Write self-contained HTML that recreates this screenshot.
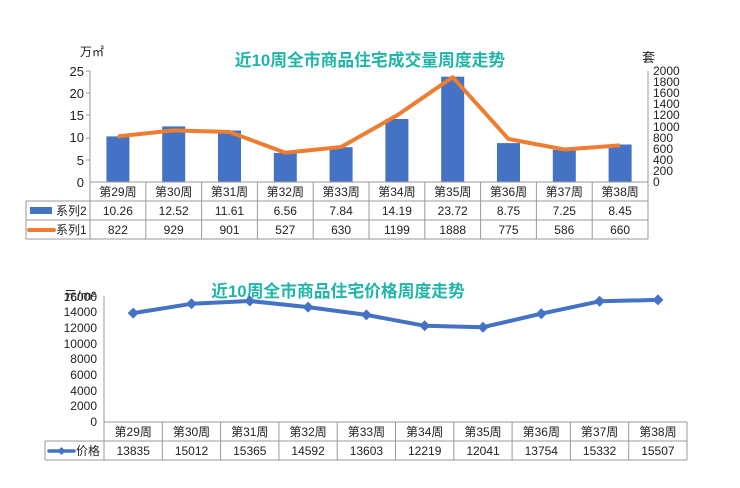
<!DOCTYPE html>
<html><head><meta charset="utf-8"><style>
body{margin:0;background:#fff}
svg{display:block;font-family:"Liberation Sans","Noto Sans CJK SC",sans-serif}
</style></head><body>
<svg width="740" height="488" viewBox="0 0 740 488">
<rect width="740" height="488" fill="#fff"/>
<!-- TOP CHART -->
<text x="370" y="66" text-anchor="middle" font-size="16.8" font-weight="bold" fill="#1fb5a8" font-family="Liberation Sans,Noto Sans CJK SC,sans-serif">近10周全市商品住宅成交量周度走势</text>
<text x="80" y="56" font-size="12" fill="#222">万㎡</text>
<text x="642" y="62" font-size="13" fill="#222">套</text>
<g font-size="13" fill="#222" text-anchor="end">
<text x="84" y="76">25</text><text x="84" y="98">20</text><text x="84" y="120">15</text><text x="84" y="142">10</text><text x="84" y="165">5</text><text x="84" y="187">0</text>
</g>
<g font-size="12" fill="#222">
<text x="653" y="75">2000</text><text x="653" y="86">1800</text><text x="653" y="97">1600</text><text x="653" y="108">1400</text><text x="653" y="119">1200</text><text x="653" y="131">1000</text><text x="653" y="142">800</text><text x="653" y="153">600</text><text x="653" y="164">400</text><text x="653" y="175">200</text><text x="653" y="186">0</text>
</g>
<g stroke="#999" stroke-width="1">
<line x1="90" y1="71" x2="90" y2="182"/><line x1="648" y1="71" x2="648" y2="182"/>
<line x1="86" y1="71" x2="90" y2="71"/><line x1="86" y1="93" x2="90" y2="93"/><line x1="86" y1="115" x2="90" y2="115"/><line x1="86" y1="138" x2="90" y2="138"/><line x1="86" y1="160" x2="90" y2="160"/>
</g>
<g fill="#4472c4">
<rect x="106.4" y="136.4" width="23" height="45.6"/><rect x="162.2" y="126.4" width="23" height="55.6"/><rect x="218" y="130.5" width="23" height="51.5"/><rect x="273.8" y="152.9" width="23" height="29.1"/><rect x="329.6" y="147.2" width="23" height="34.8"/><rect x="385.4" y="119" width="23" height="63"/><rect x="441.2" y="76.7" width="23" height="105.3"/><rect x="497" y="143.1" width="23" height="38.9"/><rect x="552.8" y="149.8" width="23" height="32.2"/><rect x="608.6" y="144.5" width="23" height="37.5"/>
</g>
<polyline fill="none" stroke="#ed7d31" stroke-width="4" stroke-linejoin="round" points="117.9,136.4 173.7,130.4 229.5,132 285.3,152.8 341.1,147 396.9,115.5 452.7,77.2 508.5,139 564.3,149.5 620.1,145.4"/>
<!-- table top -->
<g stroke="#999" stroke-width="1" fill="none">
<line x1="90" y1="182" x2="648" y2="182"/>
<line x1="26" y1="201" x2="648" y2="201"/>
<line x1="26" y1="220" x2="648" y2="220"/>
<line x1="26" y1="239" x2="648" y2="239"/>
<line x1="26" y1="201" x2="26" y2="239"/>
<line x1="90" y1="182" x2="90" y2="239"/><line x1="145.8" y1="182" x2="145.8" y2="239"/><line x1="201.6" y1="182" x2="201.6" y2="239"/><line x1="257.4" y1="182" x2="257.4" y2="239"/><line x1="313.2" y1="182" x2="313.2" y2="239"/><line x1="369" y1="182" x2="369" y2="239"/><line x1="424.8" y1="182" x2="424.8" y2="239"/><line x1="480.6" y1="182" x2="480.6" y2="239"/><line x1="536.4" y1="182" x2="536.4" y2="239"/><line x1="592.2" y1="182" x2="592.2" y2="239"/><line x1="648" y1="182" x2="648" y2="239"/>
</g>
<rect x="30" y="207" width="22" height="7" fill="#4472c4"/>
<line x1="29" y1="230" x2="54" y2="230" stroke="#ed7d31" stroke-width="4" stroke-linecap="round"/>
<g font-size="12" fill="#222">
<text x="56" y="215">系列2</text><text x="56" y="234">系列1</text>
</g>
<g font-size="12" fill="#222" text-anchor="middle">
<text x="117.9" y="196">第29周</text><text x="173.7" y="196">第30周</text><text x="229.5" y="196">第31周</text><text x="285.3" y="196">第32周</text><text x="341.1" y="196">第33周</text><text x="396.9" y="196">第34周</text><text x="452.7" y="196">第35周</text><text x="508.5" y="196">第36周</text><text x="564.3" y="196">第37周</text><text x="620.1" y="196">第38周</text>
<text x="117.9" y="215">10.26</text><text x="173.7" y="215">12.52</text><text x="229.5" y="215">11.61</text><text x="285.3" y="215">6.56</text><text x="341.1" y="215">7.84</text><text x="396.9" y="215">14.19</text><text x="452.7" y="215">23.72</text><text x="508.5" y="215">8.75</text><text x="564.3" y="215">7.25</text><text x="620.1" y="215">8.45</text>
<text x="117.9" y="234">822</text><text x="173.7" y="234">929</text><text x="229.5" y="234">901</text><text x="285.3" y="234">527</text><text x="341.1" y="234">630</text><text x="396.9" y="234">1199</text><text x="452.7" y="234">1888</text><text x="508.5" y="234">775</text><text x="564.3" y="234">586</text><text x="620.1" y="234">660</text>
</g>
<!-- BOTTOM CHART -->
<text x="338" y="297" text-anchor="middle" font-size="16.8" font-weight="bold" fill="#1fb5a8" font-family="Liberation Sans,Noto Sans CJK SC,sans-serif">近10周全市商品住宅价格周度走势</text>
<g font-size="12" fill="#222" text-anchor="end">
<text x="97" y="301">16000</text><text x="97" y="316">14000</text><text x="97" y="332">12000</text><text x="97" y="348">10000</text><text x="97" y="363">8000</text><text x="97" y="379">6000</text><text x="97" y="395">4000</text><text x="97" y="410">2000</text><text x="97" y="426">0</text>
</g>
<text x="64" y="300" font-size="13" fill="#222">元/m²</text>
<line x1="104" y1="296" x2="104" y2="422" stroke="#999"/>
<polyline fill="none" stroke="#4472c4" stroke-width="4" stroke-linejoin="round" points="133.2,313.1 191.5,303.8 249.8,301 308.1,307.1 366.4,314.9 424.7,325.8 483,327.2 541.3,313.7 599.6,301.3 657.9,299.9"/>
<g fill="#4472c4">
<path d="M133.2,307.6l5.5,5.5l-5.5,5.5l-5.5,-5.5z"/><path d="M191.5,298.3l5.5,5.5l-5.5,5.5l-5.5,-5.5z"/><path d="M249.8,295.5l5.5,5.5l-5.5,5.5l-5.5,-5.5z"/><path d="M308.1,301.6l5.5,5.5l-5.5,5.5l-5.5,-5.5z"/><path d="M366.4,309.4l5.5,5.5l-5.5,5.5l-5.5,-5.5z"/><path d="M424.7,320.3l5.5,5.5l-5.5,5.5l-5.5,-5.5z"/><path d="M483,321.7l5.5,5.5l-5.5,5.5l-5.5,-5.5z"/><path d="M541.3,308.2l5.5,5.5l-5.5,5.5l-5.5,-5.5z"/><path d="M599.6,295.8l5.5,5.5l-5.5,5.5l-5.5,-5.5z"/><path d="M657.9,294.4l5.5,5.5l-5.5,5.5l-5.5,-5.5z"/>
</g>
<g stroke="#999" stroke-width="1" fill="none">
<line x1="104" y1="422" x2="687" y2="422"/>
<line x1="45" y1="441" x2="687" y2="441"/>
<line x1="45" y1="460" x2="687" y2="460"/>
<line x1="45" y1="441" x2="45" y2="460"/>
<line x1="104" y1="422" x2="104" y2="460"/><line x1="162.3" y1="422" x2="162.3" y2="460"/><line x1="220.6" y1="422" x2="220.6" y2="460"/><line x1="278.9" y1="422" x2="278.9" y2="460"/><line x1="337.2" y1="422" x2="337.2" y2="460"/><line x1="395.5" y1="422" x2="395.5" y2="460"/><line x1="453.8" y1="422" x2="453.8" y2="460"/><line x1="512.1" y1="422" x2="512.1" y2="460"/><line x1="570.4" y1="422" x2="570.4" y2="460"/><line x1="628.7" y1="422" x2="628.7" y2="460"/><line x1="687" y1="422" x2="687" y2="460"/>
</g>
<line x1="49" y1="451" x2="74" y2="451" stroke="#4472c4" stroke-width="3.5" stroke-linecap="round"/>
<path d="M61.5,447l4,4l-4,4l-4,-4z" fill="#4472c4"/>
<text x="76" y="455" font-size="12" fill="#222">价格</text>
<g font-size="12" fill="#222" text-anchor="middle">
<text x="133.2" y="436">第29周</text><text x="191.5" y="436">第30周</text><text x="249.8" y="436">第31周</text><text x="308.1" y="436">第32周</text><text x="366.4" y="436">第33周</text><text x="424.7" y="436">第34周</text><text x="483" y="436">第35周</text><text x="541.3" y="436">第36周</text><text x="599.6" y="436">第37周</text><text x="657.9" y="436">第38周</text>
<text x="133.2" y="455">13835</text><text x="191.5" y="455">15012</text><text x="249.8" y="455">15365</text><text x="308.1" y="455">14592</text><text x="366.4" y="455">13603</text><text x="424.7" y="455">12219</text><text x="483" y="455">12041</text><text x="541.3" y="455">13754</text><text x="599.6" y="455">15332</text><text x="657.9" y="455">15507</text>
</g>
</svg>
</body></html>
